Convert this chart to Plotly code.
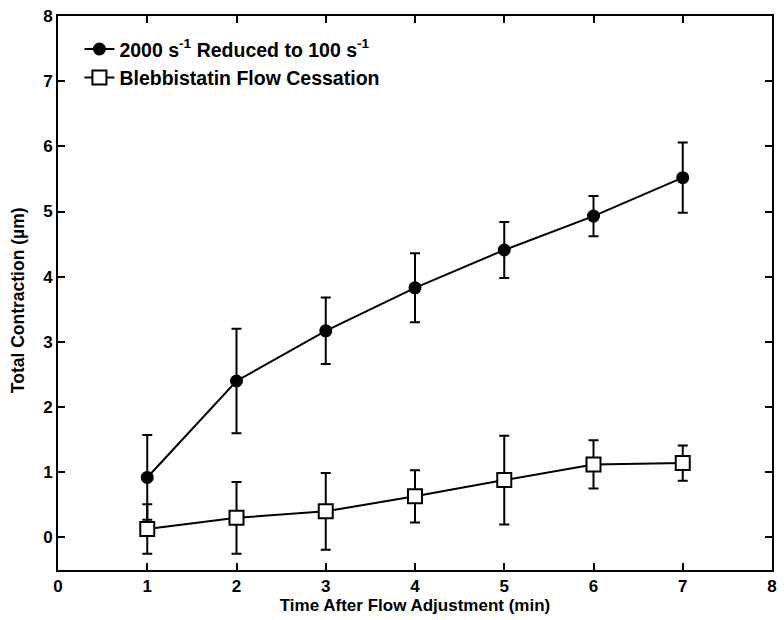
import plotly.graph_objects as go

time_min = [1, 2, 3, 4, 5, 6, 7]
reduced_mean = [0.92, 2.40, 3.17, 3.83, 4.41, 4.93, 5.52]
reduced_err = [0.65, 0.80, 0.51, 0.53, 0.43, 0.31, 0.54]
blebb_mean = [0.13, 0.30, 0.40, 0.63, 0.88, 1.12, 1.14]
blebb_err = [0.38, 0.55, 0.59, 0.40, 0.68, 0.37, 0.27]

font_family = "Liberation Sans, Arial, sans-serif"

fig = go.Figure()
fig.add_trace(go.Scatter(
    x=time_min, y=reduced_mean, mode="lines+markers",
    name="<b>2000 s<sup>-1</sup> Reduced to 100 s<sup>-1</sup></b>",
    line=dict(color="black", width=2),
    marker=dict(symbol="circle", size=13, color="black"),
    error_y=dict(type="data", array=reduced_err, color="black", thickness=2, width=5),
))
fig.add_trace(go.Scatter(
    x=time_min, y=blebb_mean, mode="lines+markers",
    name="<b>Blebbistatin Flow Cessation</b>",
    line=dict(color="black", width=2),
    marker=dict(symbol="square", size=14, color="white", line=dict(color="black", width=2)),
    error_y=dict(type="data", array=blebb_err, color="black", thickness=2, width=5),
))

axis_common = dict(
    showline=True, linecolor="black", linewidth=2, mirror="ticks",
    ticks="inside", ticklen=7, tickwidth=2, tickcolor="black",
    showgrid=False, zeroline=False,
    tickfont=dict(family=font_family, size=17, color="black", weight="bold"),
)

fig.update_layout(
    width=784, height=620,
    margin=dict(l=58, r=7, t=16, b=50),
    paper_bgcolor="white", plot_bgcolor="white",
    font=dict(family=font_family, color="black"),
    showlegend=True,
    legend=dict(
        x=0.03, y=0.975, xanchor="left", yanchor="top",
        bgcolor="rgba(0,0,0,0)", borderwidth=0,
        font=dict(family=font_family, size=19.5, color="black"),
        itemwidth=30,
    ),
    xaxis=dict(
        range=[0, 8], dtick=1, tick0=0,
        title=dict(text="<b>Time After Flow Adjustment (min)</b>", standoff=4,
                   font=dict(family=font_family, size=17, color="black")),
        **axis_common,
    ),
    yaxis=dict(
        range=[-0.5, 8], tickvals=[0, 1, 2, 3, 4, 5, 6, 7, 8],
        **axis_common,
    ),
    annotations=[dict(
        text="<b>Total Contraction (µm)</b>", textangle=-90,
        xref="paper", yref="paper", x=0, y=0.487,
        xanchor="center", yanchor="middle", xshift=-40, showarrow=False,
        font=dict(family=font_family, size=17.5, color="black"),
    )],
)

fig.write_html("out.html")
